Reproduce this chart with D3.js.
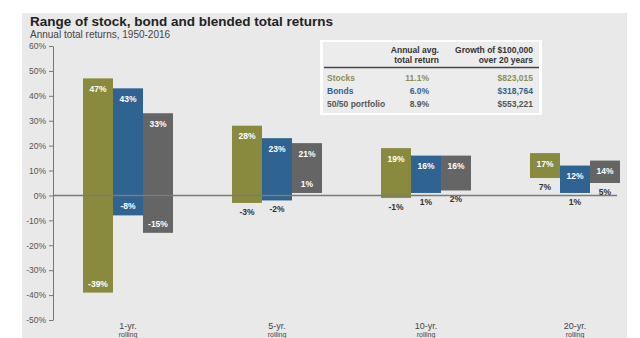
<!DOCTYPE html>
<html>
<head>
<meta charset="utf-8">
<script src="https://cdn.jsdelivr.net/npm/d3@7"></script>
<style>
  body { margin: 0; background: #fff; }
  svg { display: block; font-family: "Liberation Sans", Arial, sans-serif; }
</style>
</head>
<body>
<svg id="chart" width="640" height="338"></svg>
<script>
// categories and series
const periods = ["1-yr.", "5-yr.", "10-yr.", "20-yr."];
const seriesNames = ["Stocks", "Bonds", "50/50 portfolio"];
const seriesColors = ["#8a8a3e", "#2e6392", "#656565"];
const textColors = ["#8d8d55", "#2e6392", "#555555"];

// max / min rolling returns, one entry per period
const stocksMax = [47, 28, 19, 17];
const stocksMin = [-39, -3, -1, 7];
const bondsMax = [43, 23, 16, 12];
const bondsMin = [-8, -2, 1, 1];
const blendMax = [33, 21, 16, 14];
const blendMin = [-15, 1, 2, 5];

const yTicks = [60, 50, 40, 30, 20, 10, 0, -10, -20, -30, -40, -50];

// table
const tableAvg = ["11.1%", "6.0%", "8.9%"];
const tableGrowth = ["$823,015", "$318,764", "$553,221"];

const maxes = [stocksMax, bondsMax, blendMax];
const mins = [stocksMin, bondsMin, blendMin];

var rows = [];
periods.forEach(function(p, i) {
    seriesNames.forEach(function(s, j) {
        rows.push({period: p, series: s, idx: j, max: maxes[j][i], min: mins[j][i]});
    });
});

const svg = d3.select("#chart");

// panel background
svg.append("rect")
    .attr("x", 22).attr("y", 13)
    .attr("width", 605).attr("height", 330)
    .attr("fill", "#e9e9e9");

svg.append("text")
    .attr("x", 30).attr("y", 26)
    .attr("font-size", 13.5).attr("font-weight", "bold").attr("fill", "#222")
    .text("Range of stock, bond and blended total returns");
svg.append("text")
    .attr("x", 30).attr("y", 37.5)
    .attr("font-size", 10).attr("fill", "#444")
    .text("Annual total returns, 1950-2016");

var y = d3.scaleLinear().domain([-50, 60]).range([320, 46]);
var x = d3.scaleBand().domain(periods).range([53.5, 649.5])
    .paddingInner(0.396).paddingOuter(0.198);
var xs = d3.scaleBand().domain(seriesNames).range([0, x.bandwidth()]);

// y axis
var yAxis = svg.append("g")
    .attr("transform", "translate(53,0)")
    .call(d3.axisLeft(y).tickValues(yTicks).tickSize(4).tickSizeOuter(0)
        .tickFormat(d => d + "%"));
yAxis.select(".domain").attr("stroke", "#777");
yAxis.selectAll(".tick line").attr("stroke", "#777");
yAxis.selectAll(".tick text")
    .attr("font-size", 8.5).attr("fill", "#555").attr("font-family", "Liberation Sans, Arial, sans-serif")
    .attr("x", -7);

// bars
var barG = svg.append("g");
barG.selectAll("rect")
    .data(rows)
    .enter().append("rect")
    .attr("x", d => x(d.period) + xs(d.series))
    .attr("width", xs.bandwidth())
    .attr("y", d => y(d.max))
    .attr("height", d => y(d.min) - y(d.max))
    .attr("fill", d => seriesColors[d.idx]);

// zero line
svg.append("line")
    .attr("x1", 53).attr("x2", 617)
    .attr("y1", y(0)).attr("y2", y(0))
    .attr("stroke", "#7a7a7a").attr("stroke-width", 1.5);

// labels
var lab = svg.append("g").attr("font-size", 8.5).attr("font-weight", "bold")
    .attr("text-anchor", "middle");
lab.selectAll(".top")
    .data(rows)
    .enter().append("text")
    .attr("x", d => x(d.period) + xs(d.series) + xs.bandwidth() / 2)
    .attr("y", d => y(d.max) + 13.5)
    .attr("fill", "#fff")
    .text(d => d.max + "%");

// min label inside the bar when it is tall and does not sit just under zero
function inside(d) {
    return (d.max - d.min) >= 20 && !(d.min < 0 && d.min > -5);
}
lab.selectAll(".bot")
    .data(rows)
    .enter().append("text")
    .attr("x", d => x(d.period) + xs(d.series) + xs.bandwidth() / 2)
    .attr("y", d => inside(d) ? y(d.min) - 6 : y(d.min) + 12)
    .attr("fill", d => inside(d) ? "#fff" : "#333")
    .text(d => d.min + "%");

// category labels
var cat = svg.append("g").attr("fill", "#444").attr("text-anchor", "middle");
periods.forEach(function(p) {
    cat.append("text").attr("x", x(p) + x.bandwidth() / 2).attr("y", 329)
        .attr("font-size", 9).text(p);
    cat.append("text").attr("x", x(p) + x.bandwidth() / 2).attr("y", 336.5)
        .attr("font-size", 7).text("rolling");
});

// table box
var tb = svg.append("g");
tb.append("rect")
    .attr("x", 320).attr("y", 40).attr("width", 222).attr("height", 75)
    .attr("fill", "#fff");
tb.append("rect")
    .attr("x", 323).attr("y", 42).attr("width", 216).attr("height", 71)
    .attr("fill", "#ececec");
var hdr = tb.append("g").attr("font-size", 8.5).attr("font-weight", "bold")
    .attr("fill", "#333").attr("text-anchor", "end");
hdr.append("text").attr("x", 439).attr("y", 53).text("Annual avg.");
hdr.append("text").attr("x", 439).attr("y", 63).text("total return");
hdr.append("text").attr("x", 533).attr("y", 53).text("Growth of $100,000");
hdr.append("text").attr("x", 533).attr("y", 63).text("over 20 years");
tb.append("line")
    .attr("x1", 324).attr("x2", 539).attr("y1", 67.5).attr("y2", 67.5)
    .attr("stroke", "#444").attr("stroke-width", 1.5);

var rowY = d3.scalePoint().domain(seriesNames).range([80.5, 107]);
seriesNames.forEach(function(s, j) {
    var g = tb.append("g").attr("font-size", 8.5).attr("font-weight", "bold")
        .attr("fill", textColors[j]);
    g.append("text").attr("x", 327).attr("y", rowY(s)).text(s);
    g.append("text").attr("x", 429).attr("y", rowY(s)).attr("text-anchor", "end").text(tableAvg[j]);
    g.append("text").attr("x", 533).attr("y", rowY(s)).attr("text-anchor", "end").text(tableGrowth[j]);
});
</script>
</body>
</html>
